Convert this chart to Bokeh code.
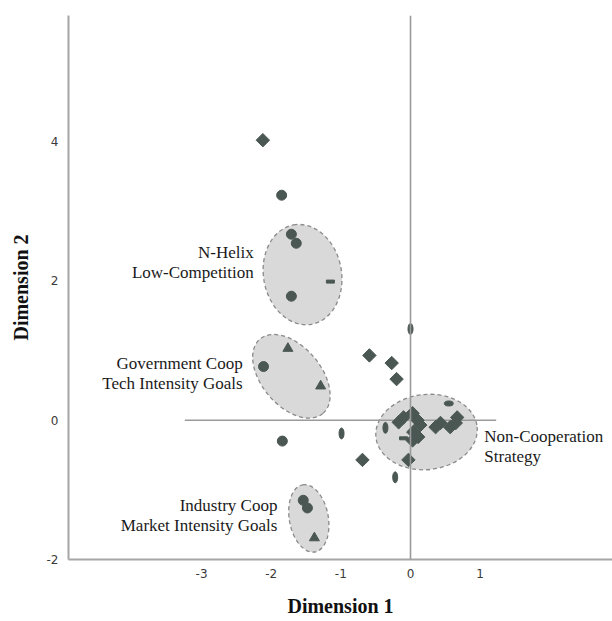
from bokeh.plotting import figure
from bokeh.models import Range1d, Span, FixedTicker, CustomJSTickFormatter
from bokeh.core.properties import value
from bokeh.embed import file_html
from bokeh.resources import INLINE

# --- Object scores by marker type (Dimension 1, Dimension 2) ---
diamond_x = [-2.12, -0.59, -0.27, -0.20, -0.69, -0.03,
             -0.17, -0.10, 0.03, 0.10, 0.14, 0.04, 0.03, 0.11,
             0.43, 0.36, 0.57, 0.67, 0.65]
diamond_y = [4.02, 0.93, 0.82, 0.59, -0.57, -0.57,
             -0.03, 0.04, 0.10, 0.00, -0.07, -0.17, -0.29, -0.24,
             -0.04, -0.10, -0.10, 0.04, -0.04]

circle_x = [-1.85, -1.71, -1.64, -1.71, -2.11, -1.84, -1.54, -1.48]
circle_y = [3.23, 2.67, 2.54, 1.78, 0.77, -0.30, -1.15, -1.26]

triangle_x = [-1.76, -1.29, -1.38]
triangle_y = [1.03, 0.49, -1.69]

narrow_x = [0.00, -0.99, -0.22, -0.36]
narrow_y = [1.31, -0.19, -0.82, -0.11]

flat_x = [0.55]
flat_y = [0.24]

bar_x = [-1.15, -0.10]
bar_y = [1.99, -0.26]

# --- Clusters: centre, axes and tilt ---
cluster_names = [["N-Helix", "Low-Competition"],
                 ["Government Coop", "Tech Intensity Goals"],
                 ["Industry Coop", "Market Intensity Goals"],
                 ["Non-Cooperation", "Strategy"]]
cluster_cx = [-1.55, -1.71, -1.46, 0.23]
cluster_cy = [2.09, 0.63, -1.41, -0.17]
cluster_major = [1.45, 1.40, 0.98, 1.46]
cluster_minor = [1.12, 0.85, 0.56, 1.08]
cluster_angle = [1.75, -0.87, 1.75, 0.10]

# label anchors (data units) and alignment for each cluster caption
label_anchor = [(-2.25, 2.41, "right"), (-2.41, 0.82, "right"),
                (-1.91, -1.22, "right"), (1.06, -0.23, "left")]
line_step = 0.29

x_ticks = [-3, -2, -1, 0, 1]
y_ticks = [-2, 0, 2, 4]

MARK = "#4a5753"
GRID = "#9a9a9a"

p = figure(width=612, height=621, output_backend="svg", toolbar_location=None,
           x_range=Range1d(-4.91, 2.90), y_range=Range1d(-2.0, 5.81),
           min_border_left=68, min_border_right=0, min_border_top=15,
           min_border_bottom=62)
p.outline_line_color = None
p.grid.visible = False
p.background_fill_color = "white"
p.border_fill_color = "white"

# cluster ellipses
p.ellipse(x=cluster_cx, y=cluster_cy, width=cluster_major, height=cluster_minor,
          angle=cluster_angle, fill_color="#d9d9d9", fill_alpha=1.0,
          line_color="#8a8a8a", line_width=1.3, line_dash="4 3")

# reference lines through the origin
p.add_layout(Span(location=0, dimension="height", line_color=GRID, line_width=1.6))
p.segment(x0=[-3.24], y0=[0], x1=[1.23], y1=[0], line_color=GRID, line_width=1.6)

# points
p.scatter(diamond_x, diamond_y, marker="square", angle=0.785, size=9.5,
          fill_color=MARK, line_color=MARK)
p.scatter(circle_x, circle_y, marker="circle", size=10,
          fill_color=MARK, line_color=MARK)
p.scatter(triangle_x, triangle_y, marker="triangle", size=10,
          fill_color=MARK, line_color=MARK)
p.ellipse(narrow_x, narrow_y, width=5, height=11, width_units="screen",
          height_units="screen", fill_color=MARK, line_color=MARK)
p.ellipse(flat_x, flat_y, width=9, height=5, width_units="screen",
          height_units="screen", fill_color=MARK, line_color=MARK)
p.rect(bar_x, bar_y, width=8, height=3, width_units="screen",
       height_units="screen", fill_color=MARK, line_color=MARK)

# cluster captions
for names, (ax, ay, align) in zip(cluster_names, label_anchor):
    ys = [ay - i * line_step for i in range(len(names))]
    p.text(x=[ax] * len(names), y=ys, text=names, text_align=align,
           text_baseline="middle", text_font=value("Liberation Serif"),
           text_font_size="17px", text_color="#1a1a1a")

# axes
for ax in (p.xaxis[0], p.yaxis[0]):
    ax.axis_line_color = "#a6a6a6"
    ax.axis_line_width = 2
    ax.major_tick_line_color = None
    ax.minor_tick_line_color = None
    ax.major_tick_out = 0
    ax.major_tick_in = 0
    ax.formatter = CustomJSTickFormatter(code="return tick.toString();")
    ax.major_label_text_font = "DejaVu Sans"
    ax.major_label_text_font_size = "12px"
    ax.major_label_text_color = "#3a3a3a"
    ax.axis_label_text_font = "Liberation Serif"
    ax.axis_label_text_font_style = "bold"
    ax.axis_label_text_font_size = "20px"
    ax.axis_label_text_color = "#111111"

p.xaxis.ticker = FixedTicker(ticks=x_ticks)
p.yaxis.ticker = FixedTicker(ticks=y_ticks)
p.xaxis.axis_label = "Dimension 1"
p.yaxis.axis_label = "Dimension 2"
p.xaxis.major_label_standoff = 9
p.xaxis.axis_label_standoff = 14
p.yaxis.major_label_standoff = 10
p.yaxis.axis_label_standoff = 12

open("out.html", "w").write(file_html(p, INLINE))
